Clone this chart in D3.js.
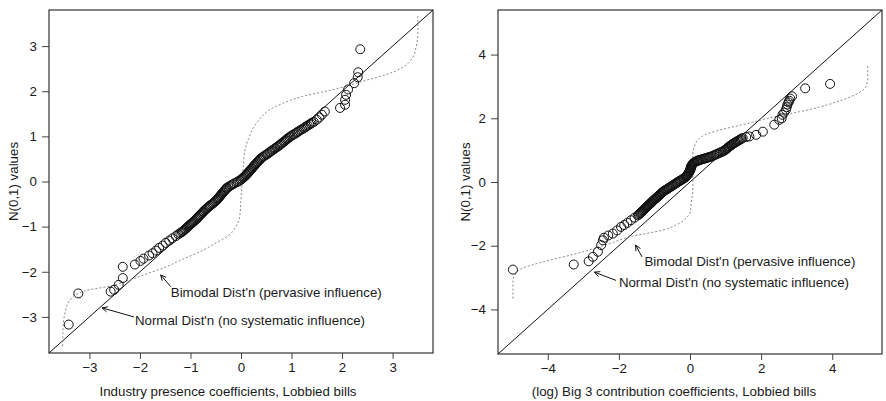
<!DOCTYPE html>
<html>
<head>
<meta charset="utf-8">
<script src="https://cdn.jsdelivr.net/npm/d3@7"></script>
<style>
  body { margin: 0; background: white; }
  text { font-family: "Liberation Sans", Arial, sans-serif; fill: #1a1a1a; }
</style>
</head>
<body>
<div id="container"></div>
<script>
let w = 886;
let h = 401;

// DATA - left panel (industry presence), sorted coefficients vs N(0,1) quantiles
let leftX = [
  -3.41,-3.22,-2.58,-2.51,-2.42,-2.34,-2.34,-2.10,-1.99,-1.93,-1.82,-1.75,-1.68,-1.62,-1.55,-1.49,-1.42,-1.36,-1.29,-1.24,
  -1.20,-1.17,-1.15,-1.13,-1.11,-1.09,-1.07,-1.05,-1.03,-1.01,-0.99,-0.97,-0.95,-0.93,-0.91,-0.89,-0.87,
  -0.86,-0.84,-0.82,-0.81,-0.79,-0.77,-0.75,-0.74,-0.72,-0.70,
  -0.68,-0.66,-0.64,-0.62,-0.60,-0.57,-0.55,-0.53,-0.51,-0.49,
  -0.47,-0.46,-0.44,-0.43,-0.41,-0.40,-0.38,-0.37,-0.35,-0.34,-0.32,-0.31,-0.29,-0.28,
  -0.25,-0.22,-0.19,-0.16,-0.13,-0.09,-0.06,-0.03,0.00,
  0.02,0.04,0.06,0.08,0.10,0.11,0.13,0.15,0.16,0.18,
  0.19,0.21,0.22,0.24,0.25,0.27,0.29,0.30,0.32,0.33,0.35,0.37,0.38,0.40,
  0.43,0.45,0.48,0.51,0.53,0.56,0.58,0.61,0.63,0.66,0.68,0.71,
  0.73,0.76,0.78,0.80,0.82,0.85,0.87,0.89,0.91,0.93,0.96,0.98,
  1.01,1.04,1.07,1.10,1.12,1.15,1.18,1.21,1.24,1.27,1.29,1.32,1.35,1.38,1.40,
  1.44,1.50,1.55,1.60,1.66,1.96,2.06,2.06,2.08,2.12,2.24,2.31,2.32,2.36];
let leftY = [
  -3.17,-2.48,-2.44,-2.40,-2.29,-2.14,-1.89,-1.84,-1.76,-1.71,-1.64,-1.59,-1.53,-1.47,-1.42,-1.36,-1.31,-1.26,-1.21,-1.17,
  -1.14,-1.12,-1.10,-1.08,-1.06,-1.04,-1.02,-1.00,-0.98,-0.96,-0.94,-0.92,-0.90,-0.88,-0.86,-0.84,-0.82,
  -0.80,-0.78,-0.76,-0.74,-0.72,-0.70,-0.68,-0.66,-0.64,-0.62,
  -0.60,-0.58,-0.56,-0.54,-0.52,-0.50,-0.48,-0.46,-0.44,-0.42,
  -0.40,-0.38,-0.36,-0.34,-0.32,-0.30,-0.28,-0.26,-0.24,-0.22,-0.20,-0.18,-0.16,-0.14,
  -0.12,-0.10,-0.08,-0.06,-0.04,-0.02,0.00,0.02,0.04,
  0.06,0.08,0.10,0.12,0.14,0.16,0.18,0.20,0.22,0.24,
  0.26,0.28,0.30,0.32,0.34,0.36,0.38,0.40,0.42,0.44,0.46,0.48,0.50,0.52,
  0.54,0.56,0.58,0.60,0.62,0.64,0.66,0.68,0.70,0.72,0.74,0.76,
  0.78,0.80,0.82,0.84,0.86,0.88,0.90,0.92,0.94,0.96,0.98,1.00,
  1.02,1.04,1.06,1.08,1.10,1.12,1.14,1.16,1.18,1.20,1.22,1.24,1.26,1.28,1.30,
  1.32,1.37,1.42,1.48,1.55,1.63,1.70,1.81,1.92,2.04,2.18,2.31,2.42,2.93];
// bimodal reference curve (dotted)
let leftCurveX = [-3.53,-3.52,-3.48,-3.40,-3.20,-3.00,-2.60,-2.20,-1.80,-1.50,-1.15,-0.80,-0.48,-0.25,-0.10,-0.03,0.00,
  0.02,0.05,0.08,0.15,0.25,0.40,0.55,0.80,1.20,1.80,2.50,3.00,3.20,3.40,3.46,3.50,3.50];
let leftCurveY = [-3.65,-3.20,-2.90,-2.65,-2.47,-2.40,-2.32,-2.18,-2.02,-1.90,-1.72,-1.55,-1.35,-1.20,-1.00,-0.80,-0.40,
  0.00,0.40,0.70,0.95,1.20,1.42,1.58,1.72,1.88,2.03,2.25,2.42,2.53,2.75,2.95,3.30,3.68];

// DATA - right panel (log big 3 contributions)
let rightX = [
  -4.98,-3.27,-2.85,-2.73,-2.59,-2.50,-2.45,-2.42,-2.30,-2.17,-2.05,-1.94,-1.85,-1.76,-1.66,-1.56,-1.47,
  -1.44,-1.42,-1.40,-1.38,-1.36,-1.34,-1.33,-1.31,-1.29,-1.27,-1.25,-1.23,-1.21,-1.20,-1.18,-1.16,-1.14,-1.12,-1.10,-1.08,-1.07,-1.05,
  -1.03,-1.01,-0.99,-0.97,-0.95,-0.93,-0.91,-0.89,-0.87,-0.85,-0.83,-0.81,-0.79,-0.77,-0.75,-0.73,
  -0.70,-0.67,-0.64,-0.61,-0.59,-0.56,-0.53,-0.50,-0.48,-0.45,-0.42,-0.39,-0.37,-0.34,
  -0.31,-0.28,-0.25,-0.22,-0.19,-0.17,-0.14,-0.11,
  -0.10,-0.09,-0.08,-0.06,-0.05,-0.04,-0.03,-0.02,-0.01,0.00,
  0.01,0.01,0.02,0.02,0.03,0.03,0.04,0.05,0.06,0.07,
  0.09,0.11,0.13,0.16,0.20,0.22,0.24,0.27,0.30,0.33,0.36,0.39,0.42,0.45,0.48,0.51,0.54,0.57,0.60,
  0.64,0.68,0.72,0.76,0.80,0.84,0.88,0.92,0.96,
  0.98,1.00,1.03,1.05,1.07,1.09,1.11,1.14,1.16,1.18,
  1.21,1.24,1.27,1.30,1.33,1.36,1.39,1.42,1.45,1.48,
  1.58,1.67,1.86,2.05,2.37,2.51,2.58,2.60,2.65,2.70,2.72,2.74,2.77,2.79,2.82,2.87,3.24,3.94];
let rightY = [
  -2.75,-2.59,-2.49,-2.35,-2.19,-1.98,-1.83,-1.75,-1.68,-1.62,-1.52,-1.41,-1.35,-1.28,-1.20,-1.12,-1.05,
  -1.02,-1.00,-0.98,-0.96,-0.94,-0.92,-0.90,-0.88,-0.86,-0.84,-0.82,-0.80,-0.78,-0.76,-0.74,-0.72,-0.70,-0.68,-0.66,-0.64,-0.62,-0.60,
  -0.58,-0.56,-0.54,-0.52,-0.50,-0.48,-0.46,-0.44,-0.42,-0.40,-0.38,-0.36,-0.34,-0.32,-0.30,-0.28,
  -0.26,-0.24,-0.22,-0.20,-0.18,-0.16,-0.14,-0.12,-0.10,-0.08,-0.06,-0.04,-0.02,0.00,
  0.02,0.04,0.06,0.08,0.10,0.12,0.14,0.16,
  0.18,0.20,0.22,0.24,0.26,0.28,0.30,0.32,0.34,0.36,
  0.38,0.40,0.42,0.44,0.46,0.48,0.50,0.52,0.54,0.56,
  0.58,0.60,0.62,0.64,0.66,0.67,0.68,0.69,0.70,0.71,0.72,0.73,0.74,0.75,0.76,0.77,0.78,0.79,0.80,
  0.82,0.84,0.86,0.88,0.90,0.92,0.94,0.96,0.98,
  1.00,1.02,1.04,1.06,1.08,1.10,1.12,1.14,1.16,1.18,
  1.20,1.22,1.24,1.26,1.28,1.30,1.32,1.34,1.36,1.38,
  1.41,1.43,1.48,1.58,1.80,1.95,2.00,2.11,2.18,2.27,2.35,2.43,2.50,2.55,2.62,2.69,2.94,3.08];
let rightCurveX = [-4.98,-4.98,-4.90,-4.70,-4.14,-3.20,-2.26,-1.69,-0.77,-0.29,-0.08,0.00,0.04,0.08,0.08,0.08,0.12,
  0.22,0.55,0.90,1.48,2.42,3.35,4.29,4.75,4.95,5.00,5.00];
let rightCurveY = [-3.66,-3.10,-2.88,-2.70,-2.51,-2.25,-1.93,-1.72,-1.51,-1.29,-1.10,-0.98,-0.60,-0.30,0.30,0.91,1.10,
  1.32,1.54,1.65,1.80,2.06,2.27,2.58,2.80,3.00,3.30,3.69];

// tick labels
let leftTicks = [-3, -2, -1, 0, 1, 2, 3];
let rightTicks = [-4, -2, 0, 2, 4];

let fontSize = "13.3px";

let panels = [
  {x: leftX, y: leftY, cx: leftCurveX, cy: leftCurveY, ticks: leftTicks, lim: 3.8,
   box: [49, 433, 10, 353], xLabel: "Industry presence coefficients, Lobbied bills", xLabelAt: 228, yLabelAt: 13,
   bimodal: {tx: -1.39, ty: -2.46, from: [-1.39, -2.33], to: [-1.59, -2.07]},
   normal: {tx: -2.10, ty: -3.07, from: [-2.12, -3.0], to: [-2.75, -2.80]}},
  {x: rightX, y: rightY, cx: rightCurveX, cy: rightCurveY, ticks: rightTicks, lim: 5.4,
   box: [498, 882, 10, 354], xLabel: "(log) Big 3 contribution coefficients, Lobbied bills", xLabelAt: 674, yLabelAt: 465,
   bimodal: {tx: -1.28, ty: -2.49, from: [-1.35, -2.35], to: [-1.53, -1.98]},
   normal: {tx: -2.0, ty: -3.14, from: [-2.08, -3.09], to: [-2.69, -2.83]}}
];

let viz = d3.select("#container").append("svg")
    .attr("width", w)
    .attr("height", h)
    .style("display", "block");

panels.forEach(function(p){
  let xScale = d3.scaleLinear().domain([-p.lim, p.lim]).range([p.box[0], p.box[1]]);
  let yScale = d3.scaleLinear().domain([-p.lim, p.lim]).range([p.box[3], p.box[2]]);
  let g = viz.append("g");

  // axes
  let xAxis = d3.axisBottom(xScale).tickValues(p.ticks).tickSize(6).tickPadding(4).tickFormat(d3.format("d"));
  let yAxis = d3.axisLeft(yScale).tickValues(p.ticks).tickSize(7).tickPadding(5).tickFormat(d3.format("d"));
  let gx = g.append("g").attr("transform", "translate(0," + p.box[3] + ")").call(xAxis);
  let gy = g.append("g").attr("transform", "translate(" + p.box[0] + ",0)").call(yAxis);
  [gx, gy].forEach(function(a){
    a.select(".domain").remove();
    a.selectAll(".tick line").attr("stroke", "#444");
    a.selectAll(".tick text").style("font-size", fontSize).attr("fill", "#1a1a1a")
      .style("font-family", "'Liberation Sans', Arial, sans-serif");
  });

  // frame
  g.append("rect")
    .attr("x", p.box[0]).attr("y", p.box[2])
    .attr("width", p.box[1] - p.box[0]).attr("height", p.box[3] - p.box[2])
    .attr("fill", "none").attr("stroke", "#333").attr("stroke-width", 1.2);

  let clipId = "clip" + p.lim;
  g.append("clipPath").attr("id", clipId).append("rect")
    .attr("x", p.box[0]).attr("y", p.box[2])
    .attr("width", p.box[1] - p.box[0]).attr("height", p.box[3] - p.box[2]);
  let plot = g.append("g").attr("clip-path", "url(#" + clipId + ")");

  // 45 degree line
  plot.append("line")
    .attr("x1", xScale(-p.lim)).attr("y1", yScale(-p.lim))
    .attr("x2", xScale(p.lim)).attr("y2", yScale(p.lim))
    .attr("stroke", "#111").attr("stroke-width", 1);

  // bimodal curve
  let curvePts = p.cx.map(function(d, i){ return [d, p.cy[i]]; });
  let lineMaker = d3.line()
    .x(function(d){ return xScale(d[0]); })
    .y(function(d){ return yScale(d[1]); })
    .curve(d3.curveMonotoneY);
  plot.append("path")
    .attr("d", lineMaker(curvePts))
    .attr("fill", "none").attr("stroke", "#8a8a8a")
    .attr("stroke-width", 1).attr("stroke-dasharray", "2,2");

  // points
  let pts = p.x.map(function(d, i){ return {x: d, y: p.y[i]}; });
  plot.selectAll("circle").data(pts).enter()
    .append("circle")
      .attr("cx", function(d){ return xScale(d.x); })
      .attr("cy", function(d){ return yScale(d.y); })
      .attr("r", 4.5)
      .attr("fill", "none")
      .attr("stroke", "#111")
      .attr("stroke-width", 1);

  // annotations
  [["Bimodal Dist'n (pervasive influence)", p.bimodal], ["Normal Dist'n (no systematic influence)", p.normal]].forEach(function(a){
    let n = a[1];
    let x1 = xScale(n.from[0]), y1 = yScale(n.from[1]);
    let x2 = xScale(n.to[0]), y2 = yScale(n.to[1]);
    let ang = Math.atan2(y1 - y2, x1 - x2);
    let len = 6, spread = Math.PI / 7;
    g.append("path")
      .attr("d", "M" + x1 + "," + y1 + "L" + x2 + "," + y2 +
        "M" + (x2 + len * Math.cos(ang + spread)) + "," + (y2 + len * Math.sin(ang + spread)) +
        "L" + x2 + "," + y2 +
        "L" + (x2 + len * Math.cos(ang - spread)) + "," + (y2 + len * Math.sin(ang - spread)))
      .attr("fill", "none").attr("stroke", "#111").attr("stroke-width", 1);
    g.append("text")
      .attr("x", xScale(n.tx)).attr("y", yScale(n.ty))
      .attr("dy", "0.35em")
      .style("font-size", fontSize)
      .text(a[0]);
  });

  // axis titles
  g.append("text")
    .attr("x", p.xLabelAt).attr("y", 391)
    .attr("dy", "0.35em")
    .attr("text-anchor", "middle")
    .style("font-size", fontSize)
    .text(p.xLabel);
  g.append("text")
    .attr("transform", "translate(" + p.yLabelAt + "," + ((p.box[2] + p.box[3]) / 2) + ") rotate(-90)")
    .attr("dy", "0.35em")
    .attr("text-anchor", "middle")
    .style("font-size", fontSize)
    .text("N(0,1) values");
});
</script>
</body>
</html>
